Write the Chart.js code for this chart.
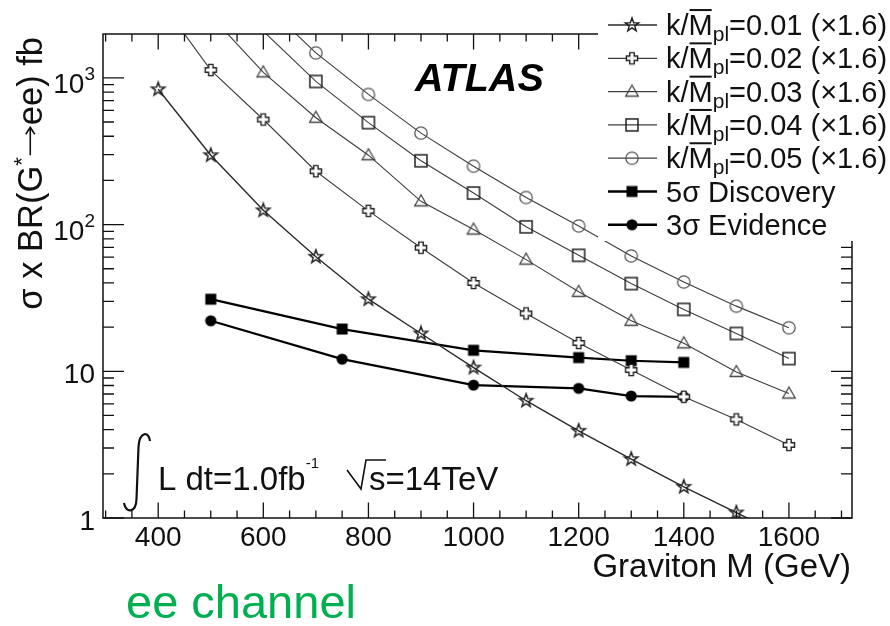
<!DOCTYPE html>
<html>
<head>
<meta charset="utf-8">
<title>Graviton - ee channel</title>
<script src="https://cdn.jsdelivr.net/npm/chart.js@4.4.0/dist/chart.umd.min.js"></script>
<style>
  html, body { margin: 0; padding: 0; background: #fff; }
  canvas { display: block; }
</style>
</head>
<body>
<canvas id="myChart" width="890" height="626"></canvas>
<script>
// graviton mass points (GeV)
const mass = [400, 500, 600, 700, 800, 900, 1000, 1100, 1200, 1300, 1400, 1500, 1600];
// sigma x BR (fb) for each k/Mpl, already x1.6 ; null = off the plot
const xs001 = [836, 297, 125, 60.3, 31.0, 18.1, 10.6, 6.30, 3.93, 2.52, 1.63, 1.09, 0.72];
const xs002 = [3500, 1130, 520, 231, 124, 69.5, 40.0, 24.8, 15.6, 10.2, 6.7, 4.7, 3.15];
const xs003 = [null, 2650, 1090, 535, 297, 144, 92.5, 57.7, 34.8, 22.1, 15.5, 9.9, 7.05];
const xs004 = [null, null, 2080, 945, 495, 272, 164, 96.5, 61.7, 39.6, 26.4, 18.1, 12.2];
const xs005 = [null, null, 3250, 1480, 771, 420, 250, 153, 97.8, 61.1, 40.6, 27.8, 19.8];

// discovery / evidence reach
const sigMass = [500, 750, 1000, 1200, 1300, 1400];
const disc5 = [31.0, 19.4, 13.9, 12.4, 11.8, 11.5];
const evid3 = [22.1, 12.1, 8.05, 7.65, 6.78, 6.7];

const couplings = ['0.01', '0.02', '0.03', '0.04', '0.05'];
const xTicks = [400, 600, 800, 1000, 1200, 1400, 1600];
const yTicks = [1, 10, 100, 1000];
const yTickLabels = [['1', ''], ['10', ''], ['10', '2'], ['10', '3']];

const FONT = '"Liberation Sans", Arial, Helvetica, sans-serif';

// marker images (ROOT-like open markers)
function marker(kind) {
  const c = document.createElement('canvas');
  c.width = 18; c.height = 18;
  const g = c.getContext('2d');
  g.translate(9, 9);
  g.lineJoin = 'miter';
  g.beginPath();
  if (kind === 'star') {
    for (let i = 0; i < 10; i++) {
      const r = i % 2 ? 2.9 : 7;
      const a = -Math.PI / 2 + i * Math.PI / 5;
      g.lineTo(r * Math.cos(a), r * Math.sin(a));
    }
    g.closePath();
    g.strokeStyle = '#222'; g.lineWidth = 1.5; g.stroke();
  } else if (kind === 'cross') {
    const a = 2.2, L = 5.6;
    const pts = [[-a,-L],[a,-L],[a,-a],[L,-a],[L,a],[a,a],[a,L],[-a,L],[-a,a],[-L,a],[-L,-a],[-a,-a]];
    pts.forEach(p => g.lineTo(p[0], p[1]));
    g.closePath();
    g.fillStyle = '#fff'; g.fill();
    g.strokeStyle = '#222'; g.lineWidth = 1.4; g.stroke();
  } else if (kind === 'triangle') {
    g.moveTo(0, -6.5); g.lineTo(6.3, 4.5); g.lineTo(-6.3, 4.5); g.closePath();
    g.strokeStyle = '#444'; g.lineWidth = 1.3; g.stroke();
  } else if (kind === 'square') {
    g.rect(-6, -6, 12, 12);
    g.strokeStyle = '#222'; g.lineWidth = 1.5; g.stroke();
  } else if (kind === 'circle') {
    g.arc(0, 0, 6.2, 0, Math.PI * 2);
    g.strokeStyle = '#555'; g.lineWidth = 1.3; g.stroke();
  } else if (kind === 'fsquare') {
    g.rect(-5.5, -5.5, 11, 11);
    g.fillStyle = '#000'; g.fill();
  } else if (kind === 'fcircle') {
    g.arc(0, 0, 5.6, 0, Math.PI * 2);
    g.fillStyle = '#000'; g.fill();
  }
  return c;
}

function pairs(xv, yv) {
  const out = [];
  xv.forEach((m, i) => { if (yv[i] != null) out.push({ x: m, y: yv[i] }); });
  return out;
}

const YMIN = 1, YMAX = 1990, XMIN = 295, XMAX = 1720;

function inRange(ctx) {
  const v = ctx.raw && ctx.raw.y;
  return v >= YMIN && v <= YMAX ? 5 : 0;
}

const kinds = ['star', 'cross', 'triangle', 'square', 'circle'];
const series = [xs001, xs002, xs003, xs004, xs005];

const datasets = series.map((s, i) => ({
  label: 'k/Mpl=' + couplings[i] + ' (×1.6)',
  data: pairs(mass, s),
  borderColor: i === 0 ? '#2a2a2a' : '#3c3c3c',
  borderWidth: i === 0 ? 1.4 : 1.1,
  pointStyle: marker(kinds[i]),
  pointRadius: inRange,
  tension: 0,
  clip: 0,
  thick: false
}));
datasets.push({
  label: '5σ Discovery',
  data: pairs(sigMass, disc5),
  borderColor: '#000', borderWidth: 2.2,
  pointStyle: marker('fsquare'), pointRadius: inRange, tension: 0, clip: 0, thick: true
});
datasets.push({
  label: '3σ Evidence',
  data: pairs(sigMass, evid3),
  borderColor: '#000', borderWidth: 2.2,
  pointStyle: marker('fcircle'), pointRadius: inRange, tension: 0, clip: 0, thick: true
});

// draw a row of text pieces (sub/superscripts, overline, arrow)
function drawRuns(ctx, runs, x, y, size, align) {
  const widthOf = r => {
    if (r.arrow) return r.arrow;
    ctx.font = (r.style || '') + ' ' + (r.size || size) + 'px ' + FONT;
    return ctx.measureText(r.t).width;
  };
  let w = 0;
  runs.forEach(r => { w += widthOf(r); });
  let cx = align === 'right' ? x - w : align === 'center' ? x - w / 2 : x;
  runs.forEach(r => {
    const s = r.size || size;
    const rw = widthOf(r);
    if (r.arrow) {
      const ay = y - size * 0.34;
      ctx.beginPath();
      ctx.lineWidth = 1.6;
      ctx.moveTo(cx + 2, ay); ctx.lineTo(cx + rw - 2, ay);
      ctx.moveTo(cx + rw - 9, ay - 4.5); ctx.lineTo(cx + rw - 2, ay); ctx.lineTo(cx + rw - 9, ay + 4.5);
      ctx.stroke();
    } else {
      ctx.font = (r.style || '') + ' ' + s + 'px ' + FONT;
      ctx.fillText(r.t, cx, y + (r.dy || 0));
    }
    if (r.over) {
      ctx.beginPath();
      ctx.lineWidth = 2;
      ctx.moveTo(cx + 1, y - s * 0.86);
      ctx.lineTo(cx + rw - 1, y - s * 0.86);
      ctx.stroke();
    }
    cx += rw;
  });
}

const decorations = {
  id: 'decorations',
  afterDraw(chart) {
    const { ctx, chartArea: a } = chart;
    const x = chart.scales.x, y = chart.scales.y;
    ctx.save();
    ctx.strokeStyle = '#111';
    ctx.fillStyle = '#111';
    ctx.lineWidth = 1.5;
    ctx.textAlign = 'left';
    ctx.textBaseline = 'alphabetic';

    // frame
    ctx.strokeRect(a.left, a.top, a.right - a.left, a.bottom - a.top);

    // x ticks (inside, bottom and top)
    ctx.lineWidth = 1.3;
    ctx.beginPath();
    for (let v = 300; v <= 1700; v += 50) {
      const px = x.getPixelForValue(v);
      const len = v % 200 === 0 ? 15.5 : 7.5;
      ctx.moveTo(px, a.bottom); ctx.lineTo(px, a.bottom - len);
      ctx.moveTo(px, a.top); ctx.lineTo(px, a.top + len);
    }
    // y ticks (log), left and right
    yTicks.forEach(dec => {
      for (let m = 1; m <= 9; m++) {
        const v = m * dec;
        if (v > y.max) continue;
        const py = y.getPixelForValue(v);
        const len = m === 1 ? 21 : 11;
        ctx.moveTo(a.left, py); ctx.lineTo(a.left + len, py);
        ctx.moveTo(a.right, py); ctx.lineTo(a.right - len, py);
      }
    });
    ctx.stroke();

    // tick labels
    xTicks.forEach(v => {
      drawRuns(ctx, [{ t: String(v) }], x.getPixelForValue(v), 546, 28, 'center');
    });
    yTicks.forEach((v, i) => {
      const py = y.getPixelForValue(v);
      const lab = yTickLabels[i];
      const runs = [{ t: lab[0] }];
      if (lab[1]) runs.push({ t: lab[1], size: 19, dy: -13 });
      drawRuns(ctx, runs, 95, py + (lab[1] ? 15 : 12), 28, 'right');
    });

    // axis titles
    drawRuns(ctx, [{ t: 'Graviton M (GeV)' }], 851, 577, 33, 'right');
    ctx.save();
    ctx.translate(42, 37);
    ctx.rotate(-Math.PI / 2);
    drawRuns(ctx, [{ t: 'σ x BR(G' }, { t: '*', size: 22, dy: -13 },
                   { t: '', arrow: 32 },
                   { t: 'ee) fb' }], 0, 0, 34.5, 'right');
    ctx.restore();

    // ATLAS label
    ctx.fillStyle = '#000';
    drawRuns(ctx, [{ t: 'ATLAS', style: 'italic bold' }], 415, 91, 39.5, 'left');

    // luminosity / energy
    ctx.fillStyle = '#111';
    ctx.lineWidth = 2.2;
    ctx.beginPath();
    ctx.moveTo(124, 503);
    ctx.bezierCurveTo(126, 514, 136, 513, 136.5, 499);
    ctx.lineTo(138.5, 447);
    ctx.bezierCurveTo(139.5, 431, 149, 431, 150, 441);
    ctx.stroke();
    drawRuns(ctx, [{ t: 'L dt=1.0fb' }, { t: '-1', size: 15, dy: -22 }], 158, 490, 33, 'left');
    ctx.lineWidth = 1.6;
    ctx.beginPath();
    ctx.moveTo(347, 470); ctx.lineTo(361, 489); ctx.lineTo(366, 460); ctx.lineTo(386, 460);
    ctx.stroke();
    drawRuns(ctx, [{ t: 's=14TeV' }], 369, 490, 33, 'left');

    // legend box (covers the frame like the original)
    ctx.fillStyle = '#fff';
    ctx.fillRect(598, 0, 292, 241);
    chart.data.datasets.forEach((ds, i) => {
      const cy = 25 + 33.3 * i;
      ctx.strokeStyle = ds.borderColor;
      ctx.lineWidth = ds.thick ? 2.6 : 1.3;
      ctx.beginPath();
      ctx.moveTo(608, cy); ctx.lineTo(657, cy);
      ctx.stroke();
      const img = ds.pointStyle;
      ctx.drawImage(img, 632 - img.width / 2, cy - img.height / 2);
      ctx.fillStyle = '#111';
      ctx.strokeStyle = '#111';
      let runs;
      if (i < couplings.length) {
        runs = [{ t: 'k/' }, { t: 'M', over: true }, { t: 'pl', size: 21, dy: 6 },
                { t: '=' + couplings[i] + ' (×1.6)' }];
      } else {
        runs = [{ t: ds.label }];
      }
      drawRuns(ctx, runs, 666, cy + 10, 29, 'left');
    });

    // channel label
    ctx.fillStyle = '#00B050';
    drawRuns(ctx, [{ t: 'ee channel' }], 126, 618, 47, 'left');
    ctx.restore();
  }
};

new Chart(document.getElementById('myChart'), {
  type: 'line',
  data: { datasets: datasets },
  options: {
    responsive: false,
    animation: false,
    devicePixelRatio: 1,
    layout: { padding: { left: 103, top: 34, right: 38, bottom: 108 } },
    scales: {
      x: { type: 'linear', min: XMIN, max: XMAX, display: false },
      y: { type: 'logarithmic', min: YMIN, max: YMAX, display: false }
    },
    plugins: { legend: { display: false }, tooltip: { enabled: false } },
    events: []
  },
  plugins: [decorations]
});
</script>
</body>
</html>
